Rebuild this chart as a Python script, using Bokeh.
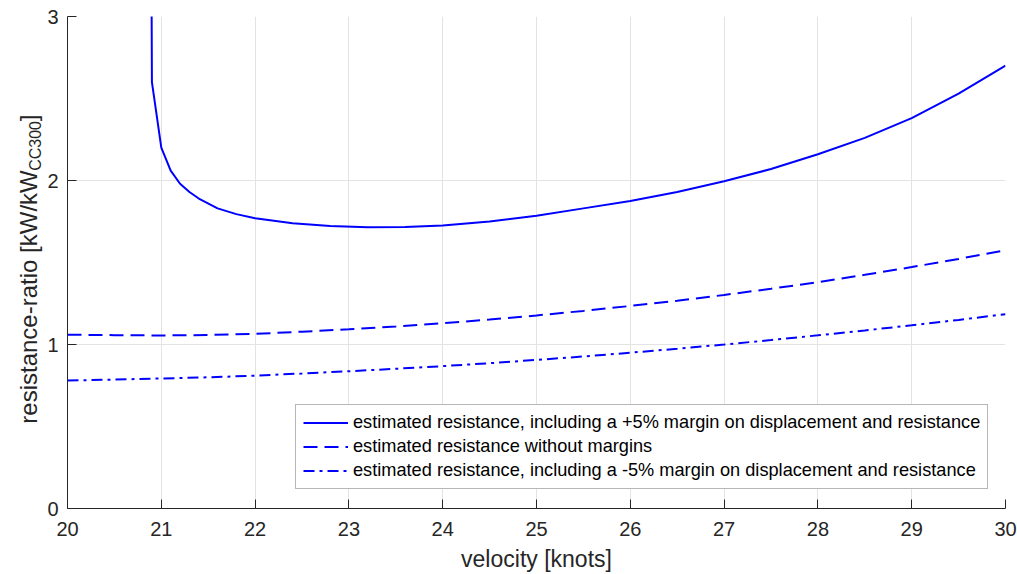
import numpy as np
from bokeh.plotting import figure
from bokeh.layouts import row
from bokeh.models import Label, Legend, LegendItem, FixedTicker, Range1d
from bokeh.embed import file_html
from bokeh.resources import INLINE

# ---- data ----
v_plus = [20.89, 20.90, 21.0, 21.1, 21.2, 21.3, 21.4, 21.6, 21.8, 22.0, 22.4, 22.8,
          23.2, 23.6, 24.0, 24.5, 25.0, 25.5, 26.0, 26.5, 27.0, 27.5, 28.0, 28.5,
          29.0, 29.5, 30.0]
r_plus = [4.0, 2.60, 2.20, 2.06, 1.98, 1.93, 1.89, 1.83, 1.795, 1.77, 1.74, 1.722,
          1.715, 1.717, 1.725, 1.75, 1.785, 1.83, 1.875, 1.93, 1.995, 2.07, 2.16, 2.26,
          2.38, 2.53, 2.70]

v_base = [20.0, 20.5, 21.0, 21.5, 22.0, 22.5, 23.0, 23.5, 24.0, 24.5, 25.0, 25.5,
          26.0, 26.5, 27.0, 27.5, 28.0, 28.5, 29.0, 29.5, 30.0]
r_nom = [1.06, 1.057, 1.055, 1.058, 1.065, 1.078, 1.093, 1.11, 1.13, 1.152, 1.177, 1.205,
         1.235, 1.267, 1.302, 1.34, 1.38, 1.425, 1.472, 1.522, 1.575]
r_minus = [0.78, 0.786, 0.793, 0.80, 0.81, 0.823, 0.837, 0.852, 0.868, 0.886, 0.906, 0.927,
           0.95, 0.974, 1.0, 1.027, 1.056, 1.086, 1.117, 1.15, 1.185]

x_ticks = [20, 21, 22, 23, 24, 25, 26, 27, 28, 29, 30]
y_ticks = [0, 1, 2, 3]

labels = ["estimated resistance, including a +5% margin on displacement and resistance",
          "estimated resistance without margins",
          "estimated resistance, including a -5% margin on displacement and resistance"]
x_label = "velocity [knots]"
y_label_main = "resistance-ratio [kW/kW"
y_label_sub = "CC300"
y_label_end = "]"

FONT = "Liberation Sans"
TXT = "#262626"
BLUE = "#0000ff"
LAB_W = 44
FRAME_LEFT = 67
FRAME_TOP, FRAME_BOTTOM = 16, 509

# ---- narrow strip holding the rotated y-axis label (with subscript) ----
# (its frame is aligned with the main chart's frame by the row layout, so the
#  y range maps straight onto page pixels)
lab = figure(width=LAB_W, height=574, x_range=Range1d(0, LAB_W),
             y_range=Range1d(FRAME_BOTTOM, FRAME_TOP),
             output_backend="svg", toolbar_location=None,
             x_axis_location=None, y_axis_location=None,
             min_border=0, min_border_left=0, min_border_right=0,
             min_border_top=FRAME_TOP, min_border_bottom=574 - FRAME_BOTTOM)
lab.outline_line_color = None
lab.grid.visible = False
lab.background_fill_color = "white"
lab.border_fill_color = "white"

main_size = 24
sub_size = 16
y_start = 424
main_len = 10.557 * main_size
sub_len = 3.112 * sub_size
lab.add_layout(Label(x=27.5, y=y_start, text=y_label_main, text_font=FONT,
                     text_font_size=f"{main_size}px", text_color=TXT, text_align="left",
                     text_baseline="alphabetic", angle=np.pi / 2))
lab.add_layout(Label(x=35, y=y_start - main_len, text=y_label_sub, text_font=FONT,
                     text_font_size=f"{sub_size}px", text_color=TXT, text_align="left",
                     text_baseline="alphabetic", angle=np.pi / 2))
lab.add_layout(Label(x=27.5, y=y_start - main_len - sub_len, text=y_label_end, text_font=FONT,
                     text_font_size=f"{main_size}px", text_color=TXT, text_align="left",
                     text_baseline="alphabetic", angle=np.pi / 2))

# ---- main chart ----
p = figure(width=1017 - LAB_W, height=574, x_range=(20, 30), y_range=(0, 3),
           output_backend="svg", toolbar_location=None,
           min_border_left=FRAME_LEFT - LAB_W, min_border_right=12, min_border_top=FRAME_TOP,
           min_border_bottom=574 - FRAME_BOTTOM)
p.outline_line_color = None
p.background_fill_color = "white"
p.border_fill_color = "white"

for ax in (p.xaxis[0], p.yaxis[0]):
    ax.axis_line_color = TXT
    ax.axis_line_width = 1
    ax.major_tick_line_color = TXT
    ax.major_tick_in = 9
    ax.major_tick_out = 0
    ax.minor_tick_line_color = None
    ax.major_label_text_font = FONT
    ax.major_label_text_font_size = "20px"
    ax.major_label_text_color = TXT

p.xaxis[0].major_label_standoff = 13
p.yaxis[0].major_label_standoff = 9
p.xaxis[0].ticker = FixedTicker(ticks=x_ticks)
p.yaxis[0].ticker = FixedTicker(ticks=y_ticks)
p.xaxis[0].axis_label = x_label
p.xaxis[0].axis_label_text_font = FONT
p.xaxis[0].axis_label_text_font_size = "23px"
p.xaxis[0].axis_label_text_font_style = "normal"
p.xaxis[0].axis_label_text_color = TXT
p.xaxis[0].axis_label_standoff = 7

p.xgrid.grid_line_color = "#e3e3e3"
p.ygrid.grid_line_color = "#e3e3e3"
p.xgrid.ticker = FixedTicker(ticks=x_ticks)
p.ygrid.ticker = FixedTicker(ticks=y_ticks)

l1 = p.line(v_plus, r_plus, line_color=BLUE, line_width=2)
l2 = p.line(v_base, r_nom, line_color=BLUE, line_width=2, line_dash="14 7")
l3 = p.line(v_base, r_minus, line_color=BLUE, line_width=2, line_dash="11 5 3 5")

legend = Legend(items=[LegendItem(label=labels[0], renderers=[l1]),
                       LegendItem(label=labels[1], renderers=[l2]),
                       LegendItem(label=labels[2], renderers=[l3])],
                location=(228, 19))
legend.label_text_font = FONT
legend.label_text_font_size = "18.2px"
legend.label_text_color = "black"
legend.padding = 7
legend.spacing = 3
legend.margin = 0
legend.label_height = 21
legend.glyph_height = 21
legend.glyph_width = 45
legend.label_standoff = 5
legend.border_line_color = "#6e6e6e"
legend.border_line_width = 1
legend.background_fill_color = "white"
legend.background_fill_alpha = 1
p.add_layout(legend, "center")

layout = row(lab, p, spacing=0)
open("out.html", "w").write(file_html(layout, INLINE))
